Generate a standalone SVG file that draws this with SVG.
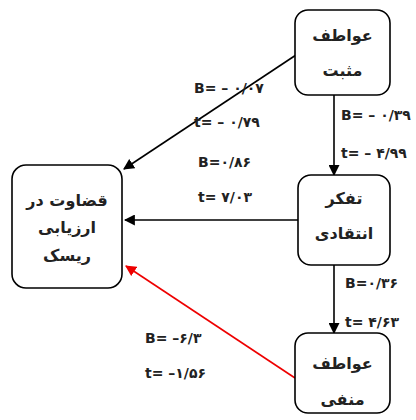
<svg xmlns="http://www.w3.org/2000/svg" width="416" height="420" viewBox="0 0 416 420">
<style>
.box{fill:#fff;stroke:#000;stroke-width:1.6}
.fa{font-family:"DejaVu Sans","Noto Sans",sans-serif;font-size:16px;font-weight:bold;fill:#222;text-anchor:middle;direction:rtl}
.lbl{font-family:"DejaVu Sans","Noto Sans",sans-serif;font-size:14px;font-weight:bold;fill:#222;direction:ltr}
.edge{stroke:#000;stroke-width:1.6;fill:none}
.red{stroke:#e00;stroke-width:1.6;fill:none}
</style>
<defs>
<marker id="ab" viewBox="0 0 10 10" refX="9" refY="5" markerWidth="11" markerHeight="11" markerUnits="userSpaceOnUse" orient="auto"><path d="M0,0 L10,5 L0,10 Z" fill="#000"/></marker>
<marker id="ar" viewBox="0 0 10 10" refX="9" refY="5" markerWidth="11" markerHeight="11" markerUnits="userSpaceOnUse" orient="auto"><path d="M0,0 L10,5 L0,10 Z" fill="#e00"/></marker>
</defs>
<g id="connectors">
<line class="edge" x1="296" y1="55" x2="124" y2="169" marker-end="url(#ab)"/>
<line class="edge" x1="298" y1="220" x2="125" y2="220" marker-end="url(#ab)"/>
<line class="red" x1="295" y1="378" x2="126" y2="266" marker-end="url(#ar)"/>
<line class="edge" x1="334" y1="95" x2="334" y2="175" marker-end="url(#ab)"/>
<line class="edge" x1="334" y1="265" x2="334" y2="333" marker-end="url(#ab)"/>
</g>
<g id="labels">
<text class="lbl" x="194" y="93">B= – ۰/۰۷</text>
<text class="lbl" x="194" y="127">t= – ۰/۷۹</text>
<text class="lbl" x="198" y="167">B=۰/۸۶</text>
<text class="lbl" x="198" y="202">t= ۷/۰۳</text>
<text class="lbl" x="341" y="120">B= – ۰/۳۹</text>
<text class="lbl" x="341" y="158">t= – ۴/۹۹</text>
<text class="lbl" x="345" y="288">B=۰/۳۶</text>
<text class="lbl" x="345" y="327">t= ۴/۶۳</text>
<text class="lbl" x="145" y="343">B= –۶/۳</text>
<text class="lbl" x="145" y="378">t= –۱/۵۶</text>
</g>
<g id="node-positive">
<rect class="box" x="295" y="10" width="95" height="85" rx="13"/>
<text class="fa" x="342.5" y="41">عواطف</text>
<text class="fa" x="342.5" y="76">مثبت</text>
</g>
<g id="node-critical">
<rect class="box" x="298" y="175" width="92" height="90" rx="13"/>
<text class="fa" x="344" y="204">تفکر</text>
<text class="fa" x="344" y="239">انتقادی</text>
</g>
<g id="node-negative">
<rect class="box" x="295" y="333" width="95" height="80" rx="13"/>
<text class="fa" x="342.5" y="369">عواطف</text>
<text class="fa" x="342.5" y="405">منفی</text>
</g>
<g id="node-judgment">
<rect class="box" x="12" y="165" width="110" height="123" rx="14"/>
<text class="fa" x="67" y="206">قضاوت در</text>
<text class="fa" x="67" y="233">ارزیابی</text>
<text class="fa" x="67" y="261">ریسک</text>
</g>
</svg>
